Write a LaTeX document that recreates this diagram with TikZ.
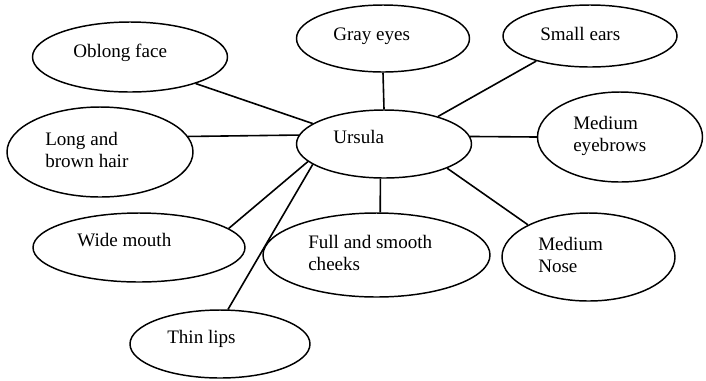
\documentclass[tikz,border=0pt]{standalone}
\usepackage{fontspec}
\setmainfont{Liberation Serif}
\usetikzlibrary{shapes.geometric}
\begin{document}
\begin{tikzpicture}[x=0.75pt,y=-0.75pt,
  ell/.style={draw, ellipse, inner sep=0pt, line width=1.1pt},
  conn/.style={line width=1.2pt},
  lbl/.style={inner sep=0pt, anchor=base west, align=left, font=\fontsize{14.3}{16.5}\selectfont}]
\useasboundingbox (0,0) rectangle (706,380);
% ellipses
\node[ell, minimum width=146.25pt, minimum height=52.5pt] (oblong) at (130,57) {};
\node[ell, minimum width=139.5pt, minimum height=67.5pt] (hair) at (100,152) {};
\node[ell, minimum width=129.75pt, minimum height=50.25pt] (gray) at (383,38.5) {};
\node[ell, minimum width=130.5pt, minimum height=46.5pt] (ears) at (590,36) {};
\node[ell, minimum width=131.25pt, minimum height=51pt] (ursula) at (384,144) {};
\node[ell, minimum width=123.75pt, minimum height=67.5pt] (brows) at (620,137) {};
\node[ell, minimum width=159pt, minimum height=51.75pt] (mouth) at (139,247.5) {};
\node[ell, minimum width=170.25pt, minimum height=63pt] (cheeks) at (376.5,255) {};
\node[ell, minimum width=129.75pt, minimum height=66pt] (nose) at (588.5,257) {};
\node[ell, minimum width=135pt, minimum height=51pt] (lips) at (220,344) {};
% texts (multi-line nodes: base = last line's baseline)
\node[lbl] (oblongT) at (73,57) {Oblong face};
\node[lbl] (hairT) at (45,167) {Long and\\brown hair};
\node[lbl] (grayT) at (333,40) {Gray eyes};
\node[lbl] (earsT) at (540,40) {Small ears};
\node[lbl] (ursulaT) at (333,143.3) {Ursula};
\node[lbl] (browsT) at (573,151.7) {Medium\\eyebrows};
\node[lbl] (mouthT) at (77,246.7) {Wide mouth};
\node[lbl] (cheeksT) at (308,270.7) {Full and smooth\\cheeks};
\node[lbl] (noseT) at (538,272.7) {Medium\\Nose};
\node[lbl] (lipsT) at (167,343.3) {Thin lips};
% connectors
\draw[conn] (oblong.-22.2) -- (ursula.164.2);
\draw[conn] (hair.10.4) -- (ursula.174.6);
\draw[conn] (gray.south) -- (ursula.north);
\draw[conn] (ears.205.2) -- (ursula.27);
\draw[conn] (ursula.5) -- (brows.180);
\draw[conn] (ursula.-21.5) -- (nose.152.9);
\draw[conn] (ursula.-96.7) -- (cheeks.85.2);
\draw[conn] (mouth.12.7) -- (ursula.193);
\draw[conn] (lips.77.5) -- (ursula.196);
\end{tikzpicture}
\end{document}
